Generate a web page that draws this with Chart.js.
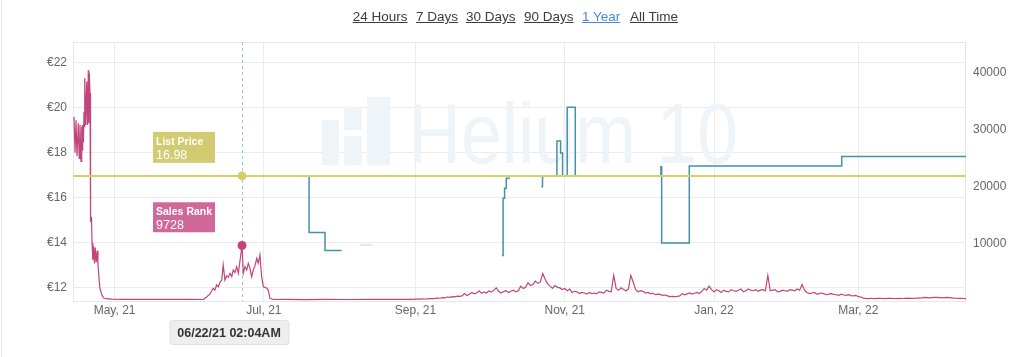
<!DOCTYPE html>
<html><head><meta charset="utf-8">
<script src="https://cdn.jsdelivr.net/npm/chart.js@4.4.1/dist/chart.umd.min.js"></script>
<style>
html,body{margin:0;padding:0;background:#fff;}
body{width:1024px;height:357px;position:relative;overflow:hidden;font-family:"Liberation Sans",Arial,Helvetica,sans-serif;}
#c{position:absolute;left:0;top:0;}
.rng{position:absolute;top:9px;font-size:13.5px;line-height:16px;color:#3c3c3c;text-decoration:underline;white-space:nowrap;}
.rng.on{color:#4a88d9;}
#edge{position:absolute;left:1px;top:0;width:1px;height:357px;background:#e4e4e4;}
</style></head><body>
<div id="edge"></div>
<canvas id="c" width="1024" height="357"></canvas>
<div id="ranges"></div>
<script>
// ---------- data ----------
const rangeLabels = ['24 Hours','7 Days','30 Days','90 Days','1 Year','All Time'];
const activeRange = '1 Year';

// x values are days counted from 1 May 2021
const xMinDay = -17, xMaxDay = 348;
const xTickDays = [0, 61, 123, 184, 245, 304];
const xTickLabels = ['May, 21','Jul, 21','Sep, 21','Nov, 21','Jan, 22','Mar, 22'];
const priceTicks = [12,14,16,18,20,22];
const priceTickLabels = ['€12','€14','€16','€18','€20','€22'];
const rankTicks = [10000,20000,30000,40000];
const rankTickLabels = ['10000','20000','30000','40000'];

const listPrice = 16.98;
const crossDay = 52.086;
const crossLabel = '06/22/21 02:04AM';
const crossRank = 9728;

// Sales rank, irregular readings up to day 119
const rankDays = [-16.59,-16.18,-15.77,-15.36,-14.83,-14.46,-14.14,-13.73,-13.44,-13.24,-13.04,-12.75,-12.50,-12.30,-12.10,-11.77,-11.40,-11.07,-10.75,-10.54,-10.34,-10.05,-9.95,-9.7,-9.45,-9.2,-8.9,-8.6,-8.2,-7.9,-7.5,-7.1,-6.8,-6.4,-6.0,-5.5,-5.0,-4.4,-3.5,-1.0,3,8,15,22,30,36.3,
 37.6,39.0,40.3,41.0,41.7,42.4,43.1,43.8,44.4,45.1,45.8,46.5,47.2,47.9,48.5,49.2,49.9,50.6,51.3,52.086,52.6,53.3,54.0,54.65,55.35,56.0,56.7,57.4,58.1,58.7,59.4,60.1,60.8,61.5,62.2,62.8,63.5,64.9,
 70,78,86,95,104,112,119];
const rankValues = [32300,26000,31700,25400,31200,25000,30900,24500,30600,26500,30900,27800,33200,30500,39100,30900,38500,30900,40500,31200,40000,36500,14700,13900,14800,10200,7200,9600,6600,9400,6800,8800,6500,4200,2300,1500,900,530,400,330,300,280,300,270,290,260,
 700,1230,2230,1900,2810,2500,3330,3680,6320,3680,4400,4210,4860,4300,5440,5000,6020,4860,7190,9728,4860,6020,5440,6610,5730,4270,5440,6200,7490,6610,8070,4270,2510,2400,2230,1930,470,260,
 280,250,270,260,290,270,300];
// Sales rank, one reading per day from day 120 to day 348
const rankDailyStart = 120;
const rankDailyValues = [
 300,310,290,320,340,330,360,350,380,400,420,
 450,520,480,600,560,700,650,780,720,850,800,900,
 1300,950,1200,1500,1250,1400,1800,1350,1600,1400,1750,1550,1900,
 2300,1700,1400,1650,1800,1500,1700,1900,1600,1800,
 2600,2200,2400,3200,2700,2900,3500,3100,3300,4800,3800,
 3000,2600,2200,2700,2400,2300,2000,2200,1800,2100,1500,1700,1600,1300,
 1500,1400,1200,1500,1300,1400,1250,1600,1500,1400,1900,1700,1600,
 4500,2200,1900,2300,2000,1800,2100,4500,3300,2000,1600,1800,1700,
 1400,1500,1300,1350,1100,1200,1150,1000,1050,900,760,800,780,820,900,
 1300,1100,1250,1400,1200,1350,1500,1300,1700,2200,1900,2600,2000,
 1600,2000,1800,1500,1900,1700,1600,2000,1800,1700,1900,2100,1600,1800,2100,1900,1800,2000,1700,1900,2000,1800,
 4500,1800,1900,2000,1600,1700,1900,1800,1700,2000,1900,1800,2100,1900,2900,
 1900,1500,1300,1400,1500,1200,1300,1400,1250,1100,1200,1300,1150,1100,1000,1200,1050,1000,1100,950,900,1000,760,700,500,
 450,430,460,440,420,450,470,440,430,460,480,450,440,430,460,440,470,490,460,450,480,500,520,560,620,590,550,600,650,620,580,600,560,620,580,540,500,480,460,450,440,420];

const priceDays =   [78,79.5,86.0,92.8,93,158.3,158.8,159.4,160.1,161.6,161.8,174.4,174.9,175.6,175.8,180.5,180.8,182.3,183.1,185.0,188.3,223.3,223.6,234.9,297.2,348];
const priceValues = [16.98,14.46,13.66,13.66,null,13.44,15.99,16.43,16.88,16.88,null,16.5,16.95,16.95,null,16.98,18.53,18.0,16.98,20.03,16.98,17.39,14.0,17.42,17.84,17.84];

const stubDays = [100.3,105.1];
const stubValues = [13.91,13.91];

// ---------- range buttons ----------
const rangeX = [352.7,416,466,524,582,630];
const holder = document.getElementById('ranges');
rangeLabels.forEach((t,i)=>{
  const s=document.createElement('span');
  s.className='rng'+(t===activeRange?' on':'');
  s.style.left=rangeX[i]+'px';
  s.textContent=t;
  holder.appendChild(s);
});

// ---------- chart ----------
const FONT = '"Liberation Sans", Arial, Helvetica, sans-serif';
const zip = (xs, ys) => xs.map((x,i)=>({x:x, y:ys[i]}));
const rankPoints = zip(rankDays, rankValues).concat(rankDailyValues.map((v,i)=>({x:rankDailyStart+i, y:v})));

const C_PINK = '#c2447d', C_PINK_BOX = '#d0699a';
const C_YEL = '#d6ce68', C_YEL_BOX = '#d3cb72';
const C_BLUE = '#4690a9';
const C_MARK = '#eff4f8';

function roundRect(ctx,x,y,w,h,r){
  ctx.beginPath();
  ctx.moveTo(x+r,y);ctx.lineTo(x+w-r,y);ctx.quadraticCurveTo(x+w,y,x+w,y+r);
  ctx.lineTo(x+w,y+h-r);ctx.quadraticCurveTo(x+w,y+h,x+w-r,y+h);
  ctx.lineTo(x+r,y+h);ctx.quadraticCurveTo(x,y+h,x,y+h-r);
  ctx.lineTo(x,y+r);ctx.quadraticCurveTo(x,y,x+r,y);ctx.closePath();
}

const overlay = {
  id:'overlay',
  beforeDatasetsDraw(chart){
    const ctx=chart.ctx, a=chart.chartArea;
    // watermark
    ctx.save();
    ctx.beginPath();ctx.rect(a.left,a.top,a.right-a.left,a.bottom-a.top);ctx.clip();
    ctx.fillStyle=C_MARK;
    ctx.fillRect(322,120,17,45);
    ctx.fillRect(344,107,18,58);
    ctx.fillRect(367,97,23,68);
    ctx.fillStyle='#ffffff';
    ctx.fillRect(344,130,18,6);
    ctx.fillStyle=C_MARK;
    ctx.font='86px '+FONT;
    ctx.textBaseline='alphabetic';
    const w=ctx.measureText('Helium 10').width;
    ctx.translate(408,163);ctx.scale(330/w,1);
    ctx.fillText('Helium 10',0,0);
    ctx.restore();
    // plot border
    ctx.save();
    ctx.strokeStyle='#e6e6e6';ctx.lineWidth=1;
    ctx.strokeRect(Math.round(a.left)+0.5,Math.round(a.top)+0.5,Math.round(a.right-a.left)-1,Math.round(a.bottom-a.top));
    ctx.restore();
    // crosshair
    const xc=chart.scales.x.getPixelForValue(crossDay);
    ctx.save();
    ctx.strokeStyle='#95cfcb';ctx.lineWidth=1;ctx.setLineDash([3,3]);
    ctx.beginPath();ctx.moveTo(Math.round(xc)+0.5,a.top);ctx.lineTo(Math.round(xc)+0.5,a.bottom);ctx.stroke();
    ctx.restore();
  },
  afterDatasetsDraw(chart){
    const ctx=chart.ctx;
    const xc=chart.scales.x.getPixelForValue(crossDay);
    const py=chart.scales.y.getPixelForValue(listPrice);
    const pr=chart.scales.y2.getPixelForValue(crossRank);
    ctx.save();
    // markers
    ctx.fillStyle=C_YEL;ctx.beginPath();ctx.arc(xc,py,4.5,0,Math.PI*2);ctx.fill();
    ctx.fillStyle=C_PINK;ctx.beginPath();ctx.arc(xc,pr,4.5,0,Math.PI*2);ctx.fill();
    // list price box
    const bx=xc-89, bw=62;
    ctx.fillStyle=C_YEL_BOX;ctx.fillRect(bx,py-44,bw,31);
    ctx.fillStyle='#ffffff';ctx.textBaseline='alphabetic';ctx.textAlign='left';
    ctx.font='bold 10.5px '+FONT;ctx.fillText('List Price',bx+3,py-31);
    ctx.font='12.5px '+FONT;ctx.fillText(listPrice.toFixed(2),bx+3,py-16.5);
    // sales rank box
    ctx.fillStyle=C_PINK_BOX;ctx.fillRect(bx,pr-43.3,bw,30);
    ctx.fillStyle='#ffffff';
    ctx.font='bold 10.5px '+FONT;ctx.fillText('Sales Rank',bx+3,pr-31);
    ctx.font='12.5px '+FONT;ctx.fillText(String(crossRank),bx+3,pr-17);
    // time label
    const tx=xc-13, tw=119;
    roundRect(ctx,tx-tw/2+0.5,320.5,tw,24,3);
    ctx.fillStyle='#eeeeee';ctx.fill();
    ctx.strokeStyle='#e0e0e0';ctx.lineWidth=1;ctx.stroke();
    ctx.fillStyle='#333333';ctx.font='bold 12.5px '+FONT;ctx.textAlign='center';
    ctx.fillText(crossLabel,tx,336.7);
    ctx.restore();
  }
};

new Chart(document.getElementById('c'),{
  type:'line',
  data:{
    datasets:[
      {label:'List Price',data:zip([xMinDay,xMaxDay],[listPrice,listPrice]),yAxisID:'y',borderColor:C_YEL,borderWidth:2,pointRadius:0,fill:false},
      {label:'Sales Rank',data:rankPoints,yAxisID:'y2',borderColor:C_PINK,borderWidth:1.2,pointRadius:0,tension:0,fill:false},
      {label:'Price stub',data:zip(stubDays,stubValues),yAxisID:'y',borderColor:'#cdd2d6',borderWidth:1,pointRadius:0,fill:false},
      {label:'Price',data:zip(priceDays,priceValues),yAxisID:'y',borderColor:C_BLUE,borderWidth:1.5,pointRadius:0,stepped:true,spanGaps:false,fill:false}
    ]
  },
  options:{
    responsive:false,animation:false,devicePixelRatio:1,events:[],
    layout:{padding:{top:42,left:0,right:0,bottom:0}},
    plugins:{legend:{display:false},tooltip:{enabled:false}},
    scales:{
      x:{type:'linear',min:xMinDay,max:xMaxDay,
        afterBuildTicks:s=>{s.ticks=xTickDays.map(v=>({value:v}));},
        afterFit:s=>{s.height=56;},
        ticks:{autoSkip:false,maxRotation:0,padding:2,color:'#666',font:{size:12,family:FONT},callback:(v,i)=>xTickLabels[i]},
        grid:{color:'#ebebeb',drawTicks:false},border:{display:false}},
      y:{type:'linear',position:'left',min:11.42,max:22.93,
        afterBuildTicks:s=>{s.ticks=priceTicks.map(v=>({value:v}));},
        afterFit:s=>{s.width=73;},
        ticks:{padding:6,color:'#666',font:{size:12,family:FONT},callback:(v,i)=>priceTickLabels[i]},
        grid:{color:'#ebebeb',drawTicks:false},border:{display:false}},
      y2:{type:'linear',position:'right',min:0,max:45440,
        afterBuildTicks:s=>{s.ticks=rankTicks.map(v=>({value:v}));},
        afterFit:s=>{s.width=58;},
        ticks:{padding:7,color:'#666',font:{size:12,family:FONT},callback:(v,i)=>rankTickLabels[i]},
        grid:{display:false,drawTicks:false},border:{display:false}}
    }
  },
  plugins:[overlay]
});
</script>
</body></html>
